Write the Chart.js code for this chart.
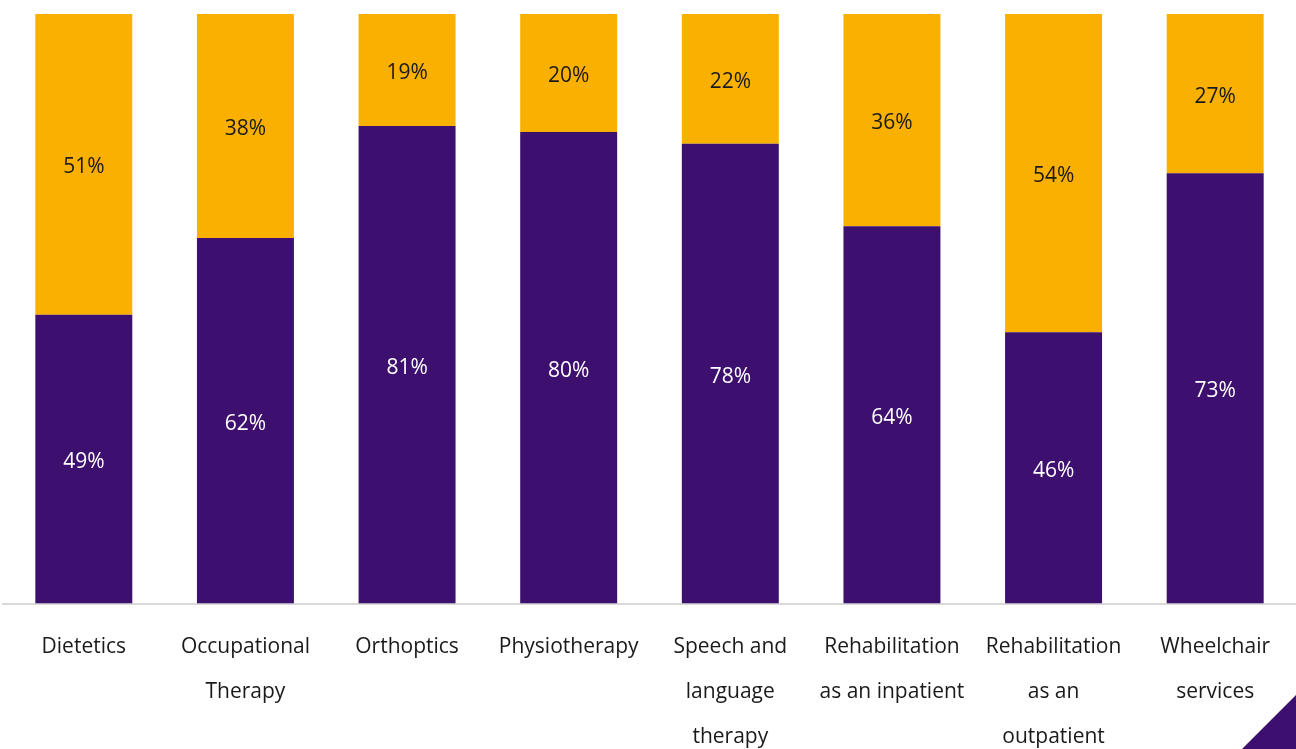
<!DOCTYPE html>
<html>
<head>
<meta charset="utf-8">
<script src="https://cdn.jsdelivr.net/npm/chart.js@4/dist/chart.umd.min.js"></script>
<style>
    html, body { margin: 0; padding: 0; background: #fff; }
    #wrap { position: relative; width: 1296px; height: 749px; overflow: hidden; }
    #serviceChart { position: absolute; left: 0; top: 0; }
    #corner {
        position: absolute; right: 0; bottom: 0; width: 54px; height: 54px;
        background: #3d0f6e; clip-path: polygon(100% 0, 100% 100%, 0 100%);
    }
</style>
</head>
<body>
<div id="wrap">
    <!-- canvas runs a little past the bottom edge so the labels sit low -->
    <canvas id="serviceChart" width="1296" height="781"></canvas>
    <div id="corner"></div>
</div>
<script>
const categories = [
    ['Dietetics'],
    ['Occupational', 'Therapy'],
    ['Orthoptics'],
    ['Physiotherapy'],
    ['Speech and', 'language', 'therapy'],
    ['Rehabilitation', 'as an inpatient'],
    ['Rehabilitation', 'as an', 'outpatient'],
    ['Wheelchair', 'services']
];
const purpleValues = [49, 62, 81, 80, 78, 64, 46, 73];
const orangeValues = [51, 38, 19, 20, 22, 36, 54, 27];

const PURPLE = '#3d0f6e';
const ORANGE = '#f9b000';
const FONT = "'Open Sans', 'Noto Sans', sans-serif";

// Writes each segment's percentage in the middle of its bar
const segmentLabels = {
    id: 'segmentLabels',
    afterDatasetsDraw(chart) {
        const ctx = chart.ctx;
        ctx.save();
        ctx.font = '21px ' + FONT;
        ctx.textAlign = 'center';
        ctx.textBaseline = 'middle';
        chart.data.datasets.forEach((ds, i) => {
            const meta = chart.getDatasetMeta(i);
            meta.data.forEach((bar, j) => {
                const mid = (bar.y + bar.base) / 2 + 3;
                ctx.fillStyle = i === 0 ? '#ffffff' : '#1a1a1a';
                ctx.fillText(ds.data[j] + '%', bar.x, mid);
            });
        });
        ctx.restore();
    }
};

new Chart(document.getElementById('serviceChart'), {
    type: 'bar',
    data: {
        labels: categories,
        datasets: [{
            label: 'Purple',
            data: purpleValues,
            backgroundColor: PURPLE,
            barPercentage: 0.6,
            categoryPercentage: 1
        }, {
            label: 'Orange',
            data: orangeValues,
            backgroundColor: ORANGE,
            barPercentage: 0.6,
            categoryPercentage: 1
        }]
    },
    options: {
        responsive: false,
        animation: false,
        layout: { padding: { top: 14, left: 3, right: -2, bottom: 0 } },
        plugins: {
            legend: { display: false },
            tooltip: { enabled: false }
        },
        scales: {
            x: {
                stacked: true,
                grid: { display: false, drawTicks: false },
                border: { color: '#d9d9d9', width: 2 },
                ticks: {
                    color: '#1a1a1a',
                    padding: 21,
                    maxRotation: 0,
                    autoSkip: false,
                    font: { family: FONT, size: 21, lineHeight: 2.15 }
                }
            },
            y: {
                stacked: true,
                display: false,
                min: 0,
                max: 100
            }
        }
    },
    plugins: [segmentLabels]
});
</script>
</body>
</html>
